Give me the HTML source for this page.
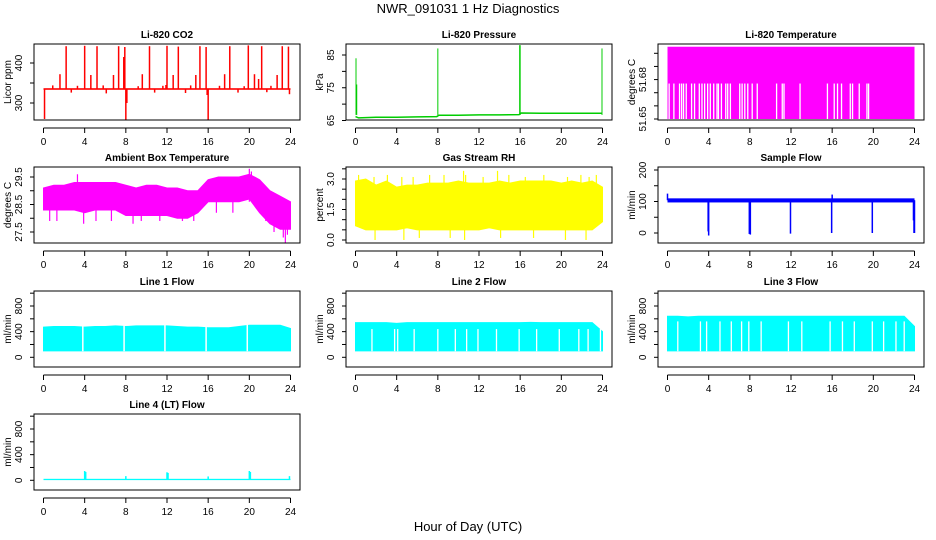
<!DOCTYPE html>
<html><head><meta charset="utf-8">
<style>
html,body{margin:0;padding:0;background:#fff;}
svg{display:block;font-family:"Liberation Sans",Arial,sans-serif;}
</style></head>
<body>
<svg id="chart" width="936" height="540" viewBox="0 0 936 540">
<text x="468" y="13" text-anchor="middle" font-size="13">NWR_091031  1 Hz Diagnostics</text>
<text x="468" y="531" text-anchor="middle" font-size="13">Hour of Day (UTC)</text>
</svg>
<script>
// ---- data arrays ----
const xTicks = [0,4,8,12,16,20,24];
const hours = [0,1,2,3,4,5,6,7,8,9,10,11,12,13,14,15,16,17,18,19,20,21,22,23,24];

const co2Base = 335;
const co2SpikeHours = [2.2,4.0,5.2,7.3,7.9,10.3,12.0,13.1,15.2,15.8,18.1,19.9,21.2,23.2,23.8,1.6,4.6,6.8,9.6,12.6,14.8,17.6,20.5,22.7,0.1,8.0,16.0,23.9,0.9,3.3,5.8,9.2,11.6,14.3,17.1,19.5,22.1,2.7,6.1,10.8,13.8,18.9,21.7,7.8,8.1,11.9,15.9,20.9];
const co2SpikeVals  = [442,443,442,442,440,442,443,441,442,440,442,444,442,442,441,372,370,370,372,370,370,372,372,370,260,258,258,322,344,343,344,342,343,344,343,342,343,326,324,326,325,326,327,415,300,345,320,360];

const presBaseHours = [0,0.3,2,4,6,7.9,8.1,10,12,14,15.9,16.1,18,20,22,23.9];
const presBaseVals  = [66.2,65.8,66.0,66.0,66.1,66.2,66.6,66.6,66.7,66.7,66.8,67.3,67.2,67.2,67.2,67.2];
const presSpikeHours = [0.05,0.12,8.0,15.95,16.0,23.95];
const presSpikeVals  = [84,76,87,88,88,87];

const tempHigh = 51.705, tempMid = 51.677, tempLow = 51.65;
const tempGapHours = [0.16,0.62,1.17,1.37,1.56,1.82,2.34,2.63,3.09,3.35,3.61,3.9,4.16,4.49,4.81,4.95,5.24,5.66,5.85,6.11,7.02,7.25,7.51,7.8,8.23,8.72,10.6,11.15,11.32,12.88,15.54,16.2,16.52,16.91,17.76,17.98,18.63,19.38,19.54];

const ambHi = [29.1,29.2,29.2,29.3,29.3,29.3,29.3,29.3,29.2,29.1,29.2,29.2,29.1,29.1,29.0,29.0,29.4,29.5,29.5,29.5,29.6,29.4,29.0,28.8,28.6];
const ambLo = [28.3,28.3,28.3,28.3,28.2,28.3,28.3,28.3,28.1,28.1,28.1,28.1,28.1,28.0,28.0,28.2,28.6,28.6,28.6,28.6,28.7,28.2,27.8,27.6,27.6];
const ambSpikeHours = [0.6,1.3,3.3,3.9,5.1,6.6,8.7,9.5,11.3,13.5,14.6,16.8,18.4,20.0,20.2,21.6,22.4,23.3,23.5,23.7];
const ambSpikeVals  = [27.9,27.9,29.6,27.8,27.9,27.9,27.8,27.9,27.9,27.9,27.9,28.2,28.2,29.8,29.7,27.9,27.5,27.3,27.1,27.4];

const rhHi = [2.9,3.0,2.7,2.9,2.6,2.7,2.7,2.8,2.8,2.8,2.9,2.8,2.8,2.8,2.9,2.8,2.9,2.9,2.9,2.9,2.8,2.9,2.8,2.9,2.6];
const rhLo = [0.7,0.5,0.5,0.5,0.5,0.6,0.5,0.5,0.5,0.5,0.5,0.5,0.5,0.6,0.5,0.5,0.5,0.5,0.5,0.5,0.5,0.5,0.5,0.5,0.9];
const rhSpikeHours = [0.3,1.8,3.1,4.5,5.6,7.2,8.6,10.5,10.7,12.4,13.8,14.9,16.5,18.3,20.6,21.9,22.7,23.4,1.9,4.7,6.2,9.2,10.6,14.1,17.3,20.4,22.4];
const rhSpikeVals  = [3.2,3.1,3.2,3.1,3.1,3.2,3.2,3.4,3.2,3.1,3.4,3.2,3.1,3.2,3.1,3.2,3.1,3.2,0.0,0.0,0.1,0.1,0.0,0.1,0.1,0.0,0.0];

const sfBaseLo = 97, sfBaseHi = 110;
const sfSpikeHours = [0.0,3.95,4.0,7.95,8.05,11.95,15.95,16.0,19.9,23.9,23.95,24.0];
const sfSpikeVals  = [125,5,-8,-3,-5,-2,0,122,0,40,0,0];

const flowLo = 100;
const l1Hi = [470,480,480,480,470,480,480,490,480,490,490,490,490,480,470,470,460,460,460,480,500,500,500,500,450];
const l1GapHours = [3.82,7.83,11.8,15.8,19.8];
const l1GapTop = 500;
const l2Hi = [540,540,540,540,530,540,540,540,540,540,540,540,540,540,540,540,540,545,540,540,540,540,540,540,400];
const l2GapHours = [1.6,3.8,4.1,5.7,8.0,9.7,10.8,11.9,13.7,15.9,17.6,19.8,21.7,22.6,23.8];
const l2GapTop = 440;
const l3Hi = [640,640,630,640,640,640,640,640,640,640,640,640,640,640,640,640,640,640,640,640,640,640,640,640,480];
const l3GapHours = [1.0,3.2,3.8,5.1,6.2,7.2,7.9,9.1,11.75,13.05,15.8,17.0,18.15,19.9,21.0,22.2,23.0];
const l3GapTop = 560;
const l4Base = 15;
const l4SpikeHours = [4.0,4.1,8.0,12.0,12.1,16.0,20.0,20.1,23.9];
const l4SpikeVals  = [145,130,65,125,115,60,145,130,65];

// ---- layout ----
const NS = "http://www.w3.org/2000/svg";
const svg = document.getElementById('chart');
const colL = [34,346,658], rowT = [44,167,291,414], W = 266, H = 76;
function mk(tag, attrs, parent){
  const e = document.createElementNS(NS, tag);
  for (const k in attrs) e.setAttribute(k, attrs[k]);
  (parent||svg).appendChild(e);
  return e;
}
function panel(col,row,title,ylab,v1,p1,v2,p2,ticks,labels,name){
  const L = colL[col], T = rowT[row];
  const g = mk('g',{});
  
  
  const xs = h => L + 9.5 + h * 247/24;
  const ys = v => T + p1 + (v - v1) * (p2 - p1) / (v2 - v1);
  const clipId = 'clip-' + name;
  const cp = mk('clipPath',{id:clipId}, g);
  mk('rect',{x:L,y:T,width:W,height:H},cp);
  const plot = mk('g',{'clip-path':'url(#'+clipId+')'}, g);
  
  
  const t = mk('text',{x:L+W/2,y:T-6,'text-anchor':'middle','font-size':10,'font-weight':'bold'},g);
  t.textContent = title;
  
  
  const b = mk('rect',{x:L,y:T,width:W,height:H,fill:'none',stroke:'#000','stroke-width':1},g);
  
  
  const ax = mk('g',{},g);
  
  
  const ay = T + H + 8;
  mk('line',{x1:xs(0),x2:xs(24),y1:ay,y2:ay,stroke:'#000'},ax);
  xTicks.forEach(h=>{
    mk('line',{x1:xs(h),x2:xs(h),y1:ay,y2:ay+5,stroke:'#000'},ax);
    const tl = mk('text',{x:xs(h),y:ay+17,'text-anchor':'middle','font-size':10},ax);
    tl.textContent = h;
    
    
  });
  const yax = mk('g',{},g);
  
  
  ticks.forEach(v=>{ if (ys(v) >= T-0.5 && ys(v) <= T+H+0.5) mk('line',{x1:L-4,x2:L,y1:ys(v),y2:ys(v),stroke:'#000'},yax); });
  labels.forEach(s=>{
    const y = ys(parseFloat(s));
    const tl = mk('text',{x:0,y:0,'text-anchor':'middle','font-size':10,transform:'translate('+(L-12)+','+y+') rotate(-90)'},yax);
    tl.textContent = s;
    
    
  });
  const yl = mk('text',{x:0,y:0,'text-anchor':'middle','font-size':10,transform:'translate('+(L-23)+','+(T+H/2)+') rotate(-90)'},yax);
  yl.textContent = ylab;
  
  
  return {plot,xs,ys};
}
function vline(p,h,a,b,color,w){
  const l = mk('line',{x1:p.xs(h),x2:p.xs(h),y1:p.ys(a),y2:p.ys(b),stroke:color,'stroke-width':w||1.5},p.plot);
  
  
}
function band(p,hs,lo,hi,color){
  let pts = hs.map((h,i)=>p.xs(h)+','+p.ys(hi[i]));
  pts = pts.concat(hs.slice().reverse().map((h,j)=>p.xs(h)+','+p.ys(lo[hs.length-1-j])));
  const pg = mk('polygon',{points:pts.join(' '),fill:color,stroke:color,'stroke-width':1},p.plot);
  
  
}
function flat(p,a,b,color){
  const r = mk('rect',{x:p.xs(0),y:p.ys(b),width:p.xs(24)-p.xs(0),height:p.ys(a)-p.ys(b),fill:color},p.plot);
  
  
}

let p = panel(0,0,'Li-820 CO2','Licor ppm',400,19,300,59,[300,350,400],['300','400'],'co2');
flat(p,co2Base-2,co2Base+2,'#ff0000');
co2SpikeHours.forEach((h,i)=>vline(p,h,co2Base,co2SpikeVals[i],'#ff0000',1.5));

p = panel(1,0,'Li-820 Pressure','kPa',85,11,65,76.5,[65,70,75,80,85],['65','75','85'],'pressure');
const pl = mk('polyline',{points:presBaseHours.map((h,i)=>p.xs(h)+','+p.ys(presBaseVals[i])).join(' '),fill:'none',stroke:'#00cd00','stroke-width':1.5},p.plot);


presSpikeHours.forEach((h,i)=>vline(p,h,presBaseVals[0]+0.5,presSpikeVals[i],'#00cd00',1));

p = panel(2,0,'Li-820 Temperature','degrees C',51.65,75,51.70,9.3,[51.65,51.66,51.67,51.68,51.69,51.70],['51.65','51.68'],'li820-temperature');
flat(p,tempLow,tempHigh,'#ff00ff');
tempGapHours.forEach(h=>vline(p,h,tempLow,tempMid,'#ffffff',1.3));

p = panel(0,1,'Ambient Box Temperature','degrees C',29.5,10,27.5,65,[27.5,28,28.5,29,29.5],['27.5','28.5','29.5'],'ambient-temperature');
band(p,hours,ambLo,ambHi,'#ff00ff');
ambSpikeHours.forEach((h,i)=>vline(p,h,28.6,ambSpikeVals[i],'#ff00ff',1.2));

p = panel(1,1,'Gas Stream RH','percent',3.0,12,0,73,[0,0.5,1,1.5,2,2.5,3,3.5],['0.0','1.5','3.0'],'gas-stream-rh');
band(p,hours,rhLo,rhHi,'#ffff00');
rhSpikeHours.forEach((h,i)=>vline(p,h,1.6,rhSpikeVals[i],'#ffff00',1.2));

p = panel(2,1,'Sample Flow','ml/min',200,3,0,66,[0,50,100,150,200],['0','100','200'],'sample-flow');
flat(p,sfBaseLo,sfBaseHi,'#0000ff');
sfSpikeHours.forEach((h,i)=>vline(p,h,104,sfSpikeVals[i],'#0000ff',1.5));

const flowTicks = [0,200,400,600,800,1000], flowLabels = ['0','400','800'];
const lows = hours.map(()=>flowLo);
p = panel(0,2,'Line 1 Flow','ml/min',0,66.3,800,15,flowTicks,flowLabels,'line1-flow');
band(p,hours,lows,l1Hi,'#00ffff');
l1GapHours.forEach(h=>vline(p,h,flowLo-5,l1GapTop+10,'#ffffff',1.5));
p = panel(1,2,'Line 2 Flow','ml/min',0,66.3,800,15,flowTicks,flowLabels,'line2-flow');
band(p,hours,lows,l2Hi,'#00ffff');
l2GapHours.forEach(h=>vline(p,h,flowLo-5,l2GapTop,'#ffffff',1.3));
p = panel(2,2,'Line 3 Flow','ml/min',0,66.3,800,15,flowTicks,flowLabels,'line3-flow');
band(p,hours,lows,l3Hi,'#00ffff');
l3GapHours.forEach(h=>vline(p,h,flowLo-5,l3GapTop,'#ffffff',1.3));
p = panel(0,3,'Line 4 (LT) Flow','ml/min',0,66.3,800,15,flowTicks,flowLabels,'line4-flow');
flat(p,l4Base-12,l4Base+8,'#00ffff');
l4SpikeHours.forEach((h,i)=>vline(p,h,l4Base,l4SpikeVals[i],'#00ffff',1.5));
</script>
</body></html>
